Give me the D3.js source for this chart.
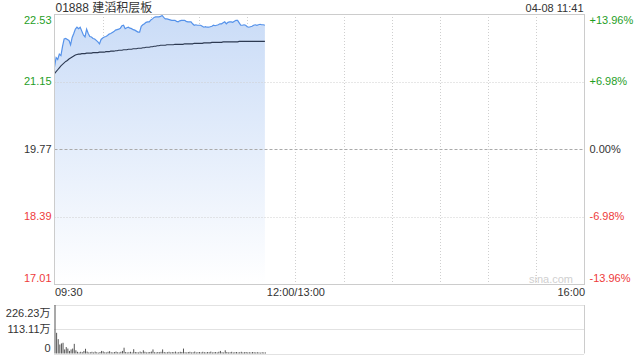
<!DOCTYPE html>
<html>
<head>
<meta charset="utf-8">
<script src="https://cdn.jsdelivr.net/npm/d3@7"></script>
<style>
  body { margin: 0; background: #fff; }
  svg text { font-family: "Liberation Sans", Arial, "Noto Sans CJK SC", sans-serif; }
</style>
</head>
<body>
<div id="chart"></div>
<script>
const title = "01888 建滔积层板";
const stamp = "04-08 11:41";

// price ticks (left) and percent labels (right)
const priceTicks = [22.53, 21.15, 19.77, 18.39, 17.01];
const pctLabels = ["+13.96%", "+6.98%", "0.00%", "-6.98%", "-13.96%"];
const prevClose = 19.77;

// time axis: minutes since 09:30 (lunch break removed)
const timeTicks = [0, 150, 330];
const timeLabels = ["09:30", "12:00/13:00", "16:00"];

// volume ticks (万)
const volTicks = [226.23, 113.11, 0];
const volLabels = ["226.23万", "113.11万", "0"];

// minute prices 09:30 -> 11:41
const price = [
  21.45, 21.64, 21.60, 21.71, 21.68, 21.87, 22.02, 22.03, 22.01, 21.99,
  21.90, 22.05, 22.13, 22.22, 22.26, 22.23, 22.26, 22.18, 22.10, 22.06,
  22.22, 22.13, 22.07, 22.06, 22.03, 22.02, 21.99, 21.96, 21.92, 22.01,
  22.04, 22.06, 22.07, 22.09, 22.12, 22.13, 22.15, 22.17, 22.20, 22.21,
  22.22, 22.24, 22.29, 22.30, 22.23, 22.25, 22.26, 22.24, 22.23, 22.21,
  22.20, 22.18, 22.16, 22.16, 22.28, 22.31, 22.33, 22.36, 22.37, 22.37,
  22.41, 22.43, 22.46, 22.47, 22.47, 22.47, 22.48, 22.50, 22.46, 22.43,
  22.43, 22.42, 22.41, 22.40, 22.40, 22.40, 22.38, 22.37, 22.39, 22.40,
  22.40, 22.40, 22.38, 22.37, 22.37, 22.37, 22.33, 22.30, 22.31, 22.30,
  22.30, 22.30, 22.28, 22.26, 22.27, 22.26, 22.26, 22.27, 22.28, 22.30,
  22.29, 22.30, 22.31, 22.33, 22.33, 22.35, 22.37, 22.33, 22.36, 22.37,
  22.37, 22.36, 22.38, 22.40, 22.40, 22.35, 22.30, 22.30, 22.31, 22.30,
  22.27, 22.26, 22.27, 22.28, 22.30, 22.31, 22.30, 22.31, 22.32, 22.31,
  22.31, 22.30
];

// average price line
const avgPrice = [
  21.31, 21.35, 21.39, 21.43, 21.47, 21.50, 21.53, 21.56, 21.58, 21.61,
  21.63, 21.65, 21.67, 21.69, 21.70, 21.71, 21.71, 21.72, 21.72, 21.72,
  21.73, 21.73, 21.73, 21.73, 21.74, 21.74, 21.74, 21.74, 21.75, 21.75,
  21.75, 21.75, 21.76, 21.76, 21.76, 21.77, 21.77, 21.77, 21.78, 21.78,
  21.79, 21.79, 21.79, 21.80, 21.80, 21.80, 21.81, 21.81, 21.81, 21.82,
  21.82, 21.82, 21.83, 21.83, 21.83, 21.84, 21.84, 21.85, 21.85, 21.85,
  21.86, 21.86, 21.87, 21.87, 21.88, 21.88, 21.89, 21.89, 21.89, 21.89,
  21.90, 21.90, 21.90, 21.90, 21.90, 21.91, 21.91, 21.91, 21.91, 21.91,
  21.91, 21.92, 21.92, 21.92, 21.92, 21.92, 21.92, 21.93, 21.93, 21.93,
  21.93, 21.93, 21.93, 21.94, 21.94, 21.94, 21.94, 21.94, 21.95, 21.95,
  21.95, 21.95, 21.95, 21.95, 21.95, 21.96, 21.96, 21.96, 21.96, 21.96,
  21.96, 21.96, 21.96, 21.96, 21.96, 21.97, 21.97, 21.97, 21.97, 21.97,
  21.97, 21.97, 21.97, 21.97, 21.97, 21.97, 21.97, 21.97, 21.97, 21.97,
  21.97, 21.97
];

// minute volume (万)
const volume = [
  226.23, 96.5, 67, 42, 47, 50, 19, 30, 23, 12,
  19, 23, 45, 15, 8, 5, 8, 6, 12, 22,
  9, 5, 6, 8, 5, 9, 6, 4, 7, 12,
  10, 6, 5, 8, 11, 6, 5, 7, 9, 6,
  5, 8, 12, 27, 7, 5, 6, 8, 5, 20,
  7, 6, 5, 9, 6, 15, 8, 5, 6, 7,
  9, 19, 6, 5, 7, 6, 8, 19, 7, 5,
  6, 8, 5, 7, 6, 9, 5, 6, 8, 7,
  23, 6, 5, 7, 8, 5, 6, 9, 5, 6,
  7, 5, 8, 6, 5, 7, 6, 9, 5, 6,
  7, 5, 8, 12, 6, 5, 15, 7, 5, 6,
  8, 5, 6, 7, 5, 6, 8, 5, 6, 7,
  5, 6, 5, 7, 6, 5, 6, 5, 4, 6,
  5, 5
];

const width = 640, height = 360;
const plotLeft = 54.5, plotRight = 584.5;
const plotTop = 14, plotBottom = 284;
const vTop = 305, vBottom = 353.5;

const green = "#1f9e1f", red = "#ee3b3b", dark = "#333";
const colorFor = v => v > prevClose ? green : v < prevClose ? red : dark;

const svg = d3.select("#chart").append("svg")
  .attr("width", width)
  .attr("height", height);

const x = d3.scaleLinear().domain([0, 330]).range([plotLeft, plotRight]);
const y = d3.scaleLinear().domain([17.01, 22.53]).range([plotBottom, plotTop]);
const yv = d3.scaleLinear().domain([0, 226.23]).range([vBottom, vTop]);

// gradient for the area under the price
const defs = svg.append("defs");
const grad = defs.append("linearGradient")
  .attr("id", "fillGrad")
  .attr("x1", 0).attr("y1", 0).attr("x2", 0).attr("y2", 1);
grad.append("stop").attr("offset", "0%").attr("stop-color", "#cadcf7");
grad.append("stop").attr("offset", "100%").attr("stop-color", "#ffffff");

// vertical grid, every 30 minutes
const gridMinutes = d3.range(30, 330, 30);
svg.append("g").selectAll("line")
  .data(gridMinutes)
  .join("line")
  .attr("x1", d => Math.round(x(d)) + 0.5).attr("x2", d => Math.round(x(d)) + 0.5)
  .attr("y1", plotTop).attr("y2", plotBottom)
  .attr("stroke", "#cfcfcf")
  .attr("stroke-dasharray", "1,2");

// area + lines
const area = d3.area()
  .x((d, i) => x(i))
  .y0(plotBottom)
  .y1(d => y(d));
svg.append("path")
  .datum(price)
  .attr("d", area)
  .attr("fill", "url(#fillGrad)");

// horizontal grid
svg.append("g").selectAll("line")
  .data(priceTicks.slice(1, -1))
  .join("line")
  .attr("x1", plotLeft).attr("x2", plotRight)
  .attr("y1", d => Math.round(y(d)) + 0.5).attr("y2", d => Math.round(y(d)) + 0.5)
  .attr("stroke", d => d === prevClose ? "#aaa" : "#cfcfcf")
  .attr("stroke-dasharray", d => d === prevClose ? "3,2" : "1,2");

svg.append("path")
  .datum(avgPrice)
  .attr("d", d3.line().x((d, i) => x(i)).y(d => y(d)))
  .attr("fill", "none")
  .attr("stroke", "#2d3a52")
  .attr("stroke-width", 1.1);

svg.append("path")
  .datum(price)
  .attr("d", d3.line().x((d, i) => x(i)).y(d => y(d)))
  .attr("fill", "none")
  .attr("stroke", "#5592ea")
  .attr("stroke-width", 1.2);

// frame
svg.append("rect")
  .attr("x", plotLeft).attr("y", plotTop + 0.5)
  .attr("width", plotRight - plotLeft).attr("height", plotBottom - plotTop)
  .attr("fill", "none")
  .attr("stroke", "#cccccc");

// left price labels
const leftAxis = svg.append("g")
  .attr("transform", `translate(${plotLeft - 3},0)`)
  .call(d3.axisLeft(y).tickValues(priceTicks).tickSize(0).tickPadding(0).tickFormat(d3.format(".2f")));
leftAxis.select(".domain").remove();
leftAxis.selectAll(".tick")
  .attr("transform", d => `translate(0,${Math.min(Math.max(y(d), plotTop + 6), plotBottom - 6)})`);
leftAxis.selectAll("text")
  .attr("font-size", 11)
  .attr("font-family", null)
  .attr("fill", d => colorFor(d));

// right percent labels
const rightAxis = svg.append("g")
  .attr("transform", `translate(${plotRight + 5},0)`)
  .call(d3.axisRight(y).tickValues(priceTicks).tickSize(0).tickPadding(0)
    .tickFormat((d, i) => pctLabels[i]));
rightAxis.select(".domain").remove();
rightAxis.selectAll(".tick")
  .attr("transform", d => `translate(0,${Math.min(Math.max(y(d), plotTop + 6), plotBottom - 6)})`);
rightAxis.selectAll("text")
  .attr("font-size", 11)
  .attr("font-family", null)
  .attr("fill", d => colorFor(d));

// time labels
const timeAxis = svg.append("g")
  .attr("transform", `translate(0,${plotBottom + 4})`)
  .call(d3.axisBottom(x).tickValues(timeTicks).tickSize(0).tickPadding(0)
    .tickFormat((d, i) => timeLabels[i]));
timeAxis.select(".domain").remove();
timeAxis.selectAll("text")
  .attr("font-size", 11)
  .attr("font-family", null)
  .attr("fill", dark)
  .attr("text-anchor", (d, i) => i === 0 ? "start" : i === timeTicks.length - 1 ? "end" : "middle");

// title + time stamp
svg.append("text")
  .attr("x", plotLeft + 1).attr("y", 11.5)
  .attr("font-size", 12)
  .attr("fill", dark)
  .text(title);
svg.append("text")
  .attr("x", plotRight - 1).attr("y", 11.5)
  .attr("text-anchor", "end")
  .attr("font-size", 11)
  .attr("fill", dark)
  .text(stamp);

// watermark
svg.append("text")
  .attr("x", 573).attr("y", 283)
  .attr("text-anchor", "end")
  .attr("font-size", 11)
  .attr("fill", "#d0d0d0")
  .text("sina.com");

// volume panel
svg.append("g").selectAll("line")
  .data(volTicks)
  .join("line")
  .attr("x1", plotLeft).attr("x2", plotRight)
  .attr("y1", d => Math.round(yv(d)) + 0.5).attr("y2", d => Math.round(yv(d)) + 0.5)
  .attr("stroke", "#c4c4c4")
  .attr("stroke-dasharray", "1,1");

svg.append("line")
  .attr("x1", plotRight).attr("x2", plotRight)
  .attr("y1", vTop).attr("y2", vBottom)
  .attr("stroke", "#cccccc");

svg.append("g").selectAll("rect")
  .data(volume)
  .join("rect")
  .attr("x", (d, i) => x(i))
  .attr("y", d => yv(d))
  .attr("width", 1)
  .attr("height", d => vBottom - yv(d))
  .attr("fill", "#555");

const volAxis = svg.append("g")
  .attr("transform", `translate(${plotLeft - 4},0)`)
  .call(d3.axisLeft(yv).tickValues(volTicks).tickSize(0).tickPadding(0)
    .tickFormat((d, i) => volLabels[i]));
volAxis.select(".domain").remove();
volAxis.selectAll(".tick")
  .attr("transform", d => `translate(0,${Math.min(Math.max(yv(d), vTop + 8), vBottom - 5)})`);
volAxis.selectAll("text")
  .attr("font-size", 11)
  .attr("font-family", null)
  .attr("fill", dark);
</script>
</body>
</html>
